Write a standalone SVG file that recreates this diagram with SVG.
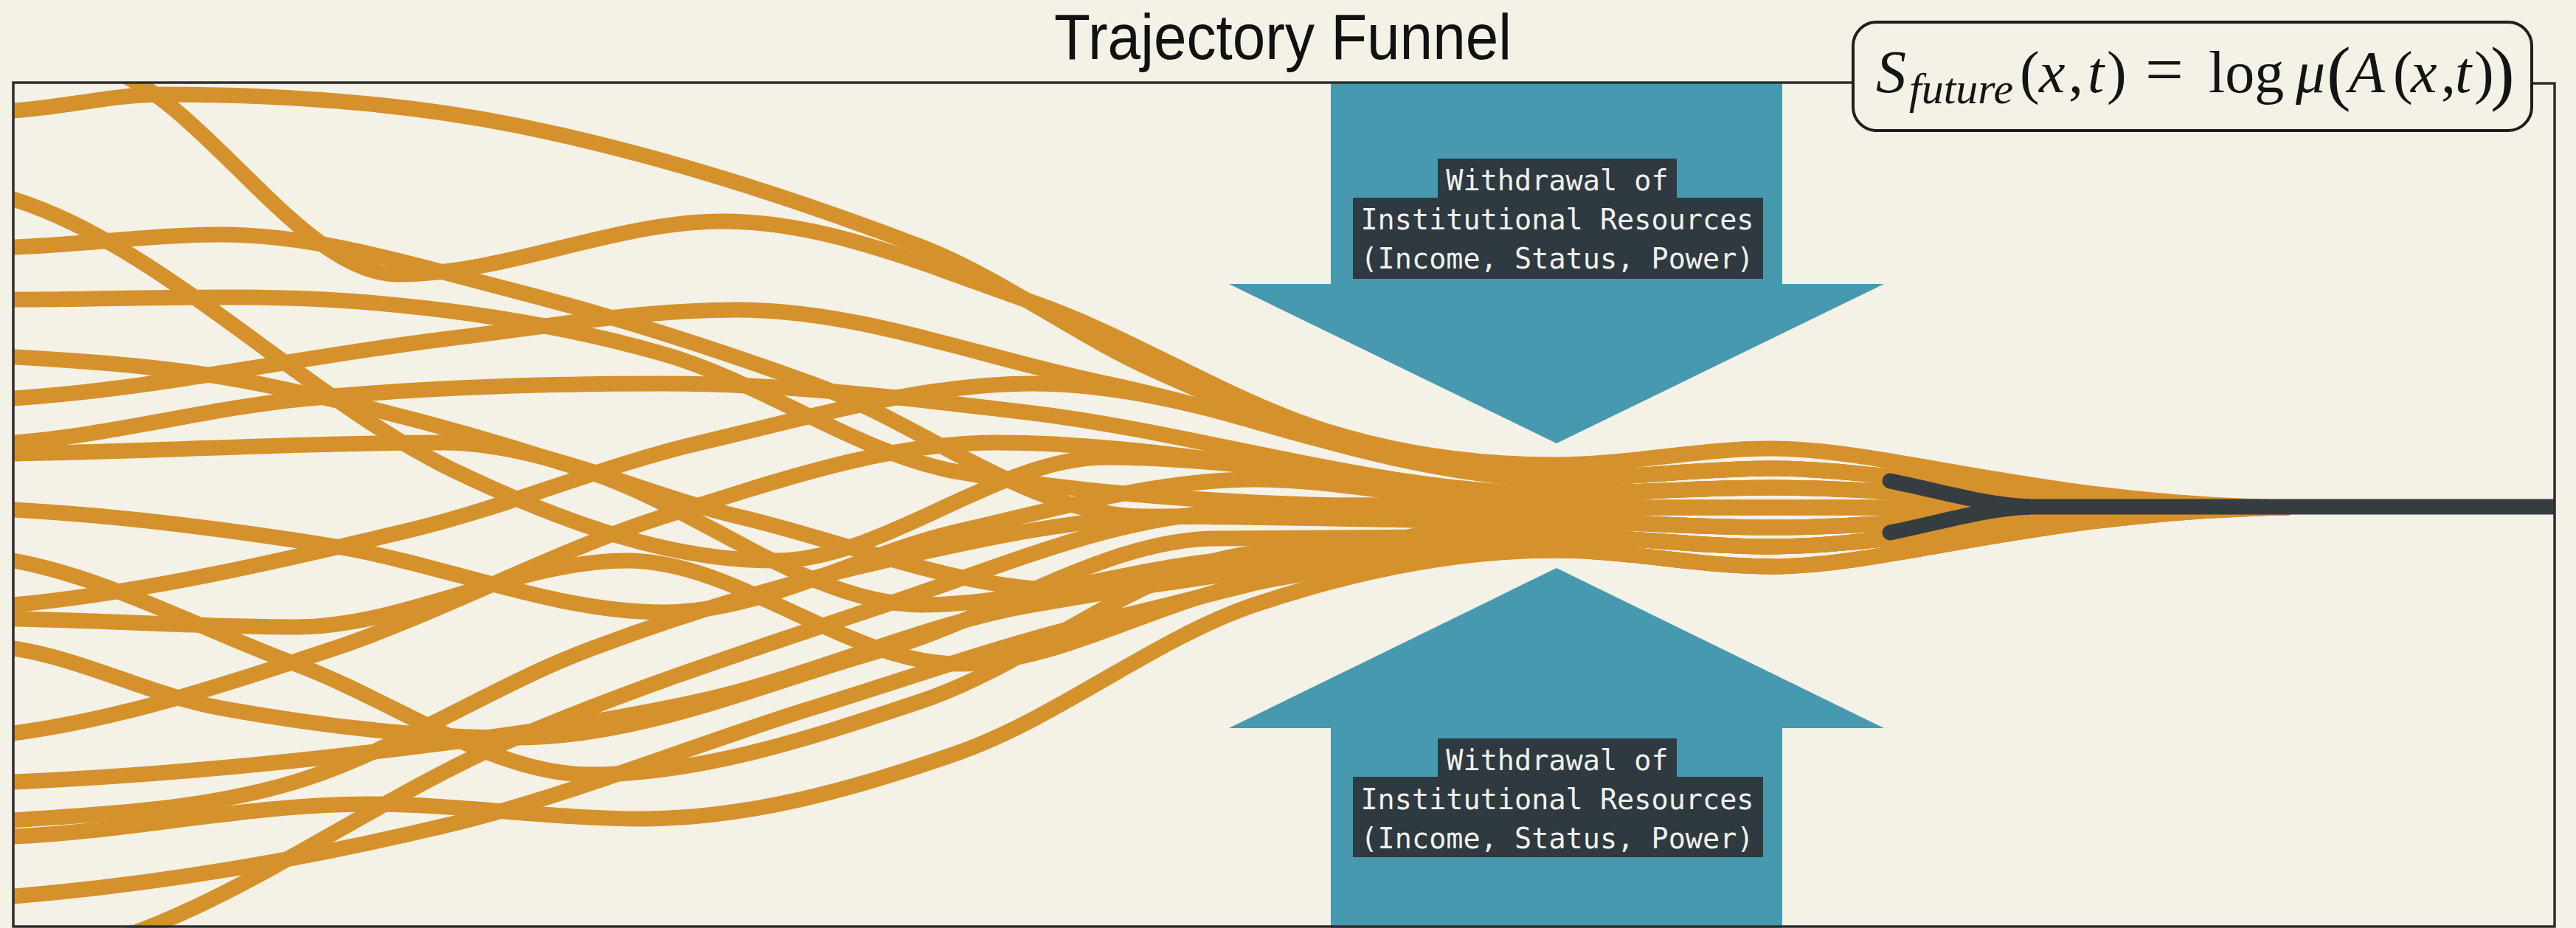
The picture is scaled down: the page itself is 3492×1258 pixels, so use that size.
<svg xmlns="http://www.w3.org/2000/svg" width="3492" height="1258" viewBox="0 0 3492 1258">
<defs>
<style>
.traj{fill:none;stroke:#D5912C;stroke-width:21;stroke-linecap:round;stroke-linejoin:round}
.arrow{fill:#4699AF}
.lblbg{fill:#2E3A3F}
.lbl{font-family:"DejaVu Sans Mono","Liberation Mono",monospace;font-size:38.5px;fill:#F0F0EC;text-anchor:middle}
.fx{font-family:"Liberation Serif",serif;font-size:80px;fill:#141414}
.it{font-style:italic}
.dark{fill:none;stroke:#353D40;stroke-width:21}
</style>
<clipPath id="inside"><rect x="19" y="113" width="3443" height="1145"/></clipPath>
</defs>
<rect x="0" y="0" width="3492" height="1258" fill="#F4F1E7"/>

<g id="arrow-top">
<polygon class="arrow" points="1804,113 2416,113 2416,385 2554,385 2110,601 1666,385 1804,385"/>
<rect class="lblbg" x="1949" y="215" width="324" height="54"/>
<rect class="lblbg" x="1834" y="268" width="556" height="110"/>
<text class="lbl" x="2111" y="258">Withdrawal of</text>
<text class="lbl" x="2111" y="311">Institutional Resources</text>
<text class="lbl" x="2111" y="364">(Income, Status, Power)</text>
</g>

<g id="arrow-bottom">
<polygon class="arrow" points="2110,770 2554,987 2416,987 2416,1258 1804,1258 1804,987 1666,987"/>
<rect class="lblbg" x="1949" y="1001" width="324" height="53"/>
<rect class="lblbg" x="1834" y="1053" width="556" height="109"/>
<text class="lbl" x="2111" y="1044">Withdrawal of</text>
<text class="lbl" x="2111" y="1097">Institutional Resources</text>
<text class="lbl" x="2111" y="1150">(Income, Status, Power)</text>
</g>

<g id="trajectories" clip-path="url(#inside)">
<path class="traj" d="M18,150 C85,146 153,128 220,128 C380,128 540,138 700,170 C883,207 1067,265 1250,335 C1353,375 1457,453 1560,500 C1657,544 1753,584 1850,610 C1937,633 2023,649 2110,649 C2207,649 2303,635 2400,635 C2560,635 2760,684 3100,688"/>
<path class="traj" d="M150,95 C280,141 410,372 540,372 C687,372 833,300 980,300 C1120,300 1260,361 1400,410 C1533,456 1667,544 1800,585 C1903,617 2007,630 2110,630 C2207,630 2303,608 2400,608 C2560,608 2760,682 3100,688"/>
<path class="traj" d="M18,270 C219,332 419,545 620,640 C763,708 907,760 1050,760 C1200,760 1350,620 1500,620 C1703,620 1907,669 2110,669 C2207,669 2303,661 2400,661 C2560,661 2760,686 3100,688"/>
<path class="traj" d="M18,335 C112,332 206,318 300,318 C433,318 567,361 700,395 C833,429 967,472 1100,520 C1250,574 1400,700 1550,700 C1737,700 1923,707 2110,707 C2207,707 2303,715 2400,715 C2560,715 2760,690 3100,688"/>
<path class="traj" d="M18,406 C179,406 339,397 500,410 C633,421 767,442 900,480 C1033,518 1167,617 1300,640 C1570,686 1840,688 2110,688 C2207,688 2303,688 2400,688 C2560,688 2760,688 3100,688"/>
<path class="traj" d="M18,484 C129,490 239,498 350,520 C500,550 650,590 800,640 C950,690 1100,820 1250,820 C1383,820 1517,774 1650,760 C1803,743 1957,727 2110,727 C2207,727 2303,741 2400,741 C2560,741 2760,692 3100,688"/>
<path class="traj" d="M18,600 C152,590 286,552 420,540 C580,525 740,520 900,520 C1067,520 1233,540 1400,560 C1637,589 1873,669 2110,669 C2207,669 2303,661 2400,661 C2560,661 2760,686 3100,688"/>
<path class="traj" d="M18,615 C212,612 406,600 600,600 C733,600 867,669 1000,700 C1150,735 1300,800 1450,800 C1670,800 1890,707 2110,707 C2207,707 2303,715 2400,715 C2560,715 2760,690 3100,688"/>
<path class="traj" d="M18,691 C162,699 306,717 450,740 C600,764 750,830 900,830 C1033,830 1167,750 1300,720 C1433,690 1567,650 1700,650 C1837,650 1973,688 2110,688 C2207,688 2303,688 2400,688 C2560,688 2760,688 3100,688"/>
<path class="traj" d="M18,820 C195,803 373,762 550,720 C683,689 817,631 950,600 C1100,565 1250,520 1400,520 C1637,520 1873,649 2110,649 C2207,649 2303,635 2400,635 C2560,635 2760,684 3100,688"/>
<path class="traj" d="M18,839 C145,841 273,850 400,850 C550,850 700,760 850,760 C1000,760 1150,900 1300,900 C1433,900 1567,815 1700,790 C1837,764 1973,746 2110,746 C2207,746 2303,768 2400,768 C2560,768 2760,694 3100,688"/>
<path class="traj" d="M18,879 C112,893 206,943 300,960 C433,984 567,1000 700,1000 C867,1000 1033,927 1200,880 C1350,837 1500,730 1650,730 C1803,730 1957,727 2110,727 C2207,727 2303,741 2400,741 C2560,741 2760,692 3100,688"/>
<path class="traj" d="M18,994 C162,975 306,928 450,880 C600,830 750,747 900,700 C1050,653 1200,600 1350,600 C1603,600 1857,669 2110,669 C2207,669 2303,661 2400,661 C2560,661 2760,686 3100,688"/>
<path class="traj" d="M18,1060 C179,1053 339,1039 500,1020 C650,1002 800,983 950,950 C1100,917 1250,846 1400,820 C1637,778 1873,746 2110,746 C2207,746 2303,768 2400,768 C2560,768 2760,694 3100,688"/>
<path class="traj" d="M18,1112 C145,1103 273,1098 400,1060 C533,1020 667,930 800,880 C933,830 1067,790 1200,760 C1333,730 1467,700 1600,700 C1770,700 1940,707 2110,707 C2207,707 2303,715 2400,715 C2560,715 2760,690 3100,688"/>
<path class="traj" d="M18,1134 C179,1127 339,1090 500,1090 C623,1090 747,1110 870,1110 C1013,1110 1157,1070 1300,1020 C1433,973 1567,865 1700,820 C1837,774 1973,746 2110,746 C2207,746 2303,768 2400,768 C2560,768 2760,694 3100,688"/>
<path class="traj" d="M18,1215 C212,1199 406,1166 600,1120 C767,1081 933,1012 1100,960 C1233,919 1367,871 1500,840 C1703,793 1907,727 2110,727 C2207,727 2303,741 2400,741 C2560,741 2760,692 3100,688"/>
<path class="traj" d="M100,1290 C300,1242 500,1085 700,1000 C867,929 1033,876 1200,820 C1333,776 1467,719 1600,700 C1770,675 1940,688 2110,688 C2207,688 2303,688 2400,688 C2560,688 2760,688 3100,688"/>
<path class="traj" d="M18,760 C145,783 273,853 400,900 C533,949 667,1050 800,1050 C950,1050 1100,1000 1250,950 C1400,900 1550,765 1700,750 C1837,736 1973,727 2110,727 C2207,727 2303,741 2400,741 C2560,741 2760,692 3100,688"/>
<path class="traj" d="M18,540 C212,527 406,484 600,460 C733,444 867,420 1000,420 C1167,420 1333,486 1500,520 C1703,562 1907,649 2110,649 C2207,649 2303,635 2400,635 C2560,635 2760,684 3100,688"/>
</g>

<g id="funnel-exit">
<path class="dark" stroke-linecap="round" d="M2562,652 C2640,668 2690,684 2750,687"/>
<path class="dark" stroke-linecap="round" d="M2562,722 C2640,706 2690,690 2750,687"/>
<path class="dark" d="M2740,687 L3463,687"/>
</g>

<g id="frame" fill="none" stroke="#2E2E2E" stroke-width="3.5">
<path d="M2512,112 L18,112 L18,1256 L3463,1256 L3463,113 L3432,113"/>
</g>

<g id="title">
<text x="1739" y="80" font-family="Liberation Sans, Arial, sans-serif" font-size="88" fill="#111" text-anchor="middle" textLength="620" lengthAdjust="spacingAndGlyphs">Trajectory Funnel</text>
</g>

<g id="formula">
<rect x="2512" y="30" width="920" height="147" rx="32" ry="32" fill="#F4F1E7" stroke="#1E1E1E" stroke-width="4"/>
<text class="fx" y="125"><tspan class="it" x="2543" font-size="82">S</tspan><tspan class="it" x="2588" y="140" font-size="60">future</tspan><tspan x="2738" y="125">(</tspan><tspan class="it" x="2764">x</tspan><tspan x="2804">,</tspan><tspan class="it" x="2830">t</tspan><tspan x="2856">)</tspan><tspan x="2908" font-size="92">=</tspan><tspan x="2994">log</tspan><tspan class="it" x="3112">μ</tspan><tspan x="3154" y="131" font-size="98">(</tspan><tspan class="it" x="3184" y="125">A</tspan><tspan x="3244">(</tspan><tspan class="it" x="3268">x</tspan><tspan x="3309">,</tspan><tspan class="it" x="3328">t</tspan><tspan x="3354">)</tspan><tspan x="3376" y="131" font-size="98">)</tspan></text>
</g>
</svg>
